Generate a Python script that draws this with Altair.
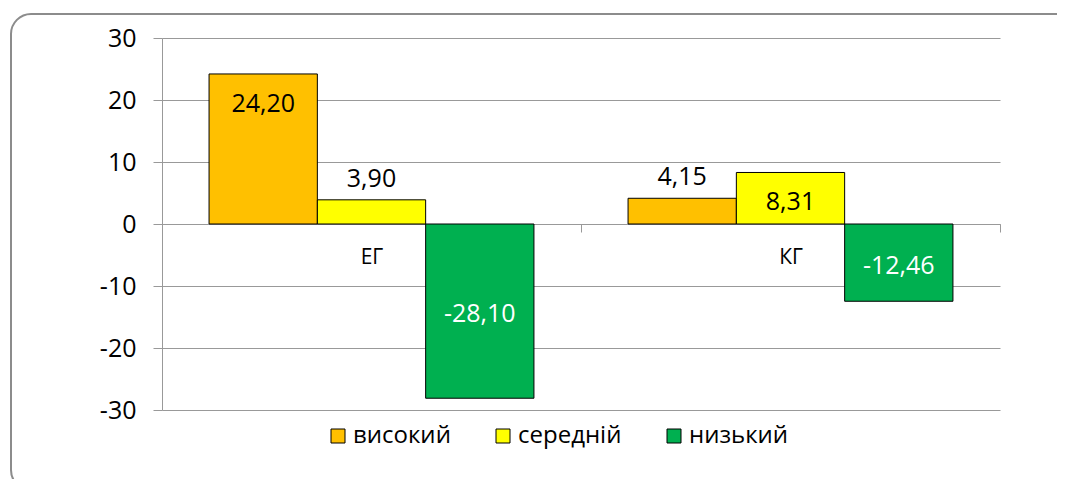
import altair as alt
import pandas as pd

categories = ["ЕГ", "КГ"]
series = ["високий", "середній", "низький"]
values_eg = [24.20, 3.90, -28.10]
values_kg = [4.15, 8.31, -12.46]
colors = ["#FFC000", "#FFFF00", "#00B050"]
y_ticks = [-30, -20, -10, 0, 10, 20, 30]

rows = []
for cat, vals in zip(categories, [values_eg, values_kg]):
    for s, v in zip(series, vals):
        rows.append({"cat": cat, "series": s, "value": v,
                     "label": f"{v:.2f}".replace(".", ",")})
df = pd.DataFrame(rows)

W, H = 838, 372
FONT = "Open Sans"

x_enc = alt.X("cat:N", sort=categories,
              scale=alt.Scale(paddingInner=0, paddingOuter=0),
              axis=alt.Axis(title=None, orient="bottom", offset=-H / 2,
                            tickBand="extent", tickSize=8, tickColor="#999999",
                            domainColor="#999999", labelFontSize=21,
                            labelColor="black", labelPadding=14, labelFont=FONT,
                            labelAngle=0))
xo_enc = alt.XOffset("series:N", sort=series,
                     scale=alt.Scale(paddingInner=0, paddingOuter=0.4345))
y_scale = alt.Scale(domain=[-30, 30], nice=False)

base = alt.Chart(df)

bars = base.mark_bar(stroke="black", strokeWidth=1).encode(
    x=x_enc,
    xOffset=xo_enc,
    y=alt.Y("value:Q", scale=y_scale,
            axis=alt.Axis(title=None, values=y_ticks, labelExpr="'' + datum.value",
                          grid=True, gridColor="#999999", domainColor="#999999",
                          tickColor="#999999", tickSize=9, labelPadding=17,
                          labelFontSize=25, labelColor="black", labelFont=FONT)),
    color=alt.Color("series:N", sort=series,
                    scale=alt.Scale(domain=series, range=colors),
                    legend=alt.Legend(title=None, orient="none", direction="horizontal",
                                      legendX=164, legendY=386,
                                      symbolType="square", symbolSize=196,
                                      symbolStrokeColor="black", symbolStrokeWidth=1,
                                      labelOffset=3, columnPadding=40,
                                      labelFontSize=24, labelFont=FONT,
                                      labelColor="black")),
)

inside = base.transform_filter("datum.value > 5").mark_text(
    baseline="middle", dy=30, fontSize=25, font=FONT, color="black"
).encode(x=alt.X("cat:N", sort=categories), xOffset=xo_enc, y=alt.Y("value:Q"), text="label:N")

outside = base.transform_filter("datum.value > 0 && datum.value <= 5").mark_text(
    baseline="middle", dy=-21, fontSize=25, font=FONT, color="black"
).encode(x=alt.X("cat:N", sort=categories), xOffset=xo_enc, y=alt.Y("value:Q"), text="label:N")

center = base.transform_filter("datum.value < 0").transform_calculate(
    mid="datum.value / 2"
).mark_text(
    baseline="middle", dy=3, fontSize=25, font=FONT, color="white"
).encode(x=alt.X("cat:N", sort=categories), xOffset=xo_enc, y=alt.Y("mid:Q"), text="label:N")

frame = alt.Chart(pd.DataFrame({"a": [0]})).mark_rect(
    cornerRadius=20, fillOpacity=0, fill="white", stroke="#8c8c8c", strokeWidth=2
).encode(x=alt.value(-151), x2=alt.value(W + 80), y=alt.value(-24), y2=alt.value(H + 80))

chart = alt.layer(frame, bars, inside, outside, center).properties(
    width=W, height=H,
    autosize=alt.AutoSizeParams(type="none"),
    padding={"left": 154, "top": 30, "right": 57, "bottom": 69},
).configure_view(stroke=None).configure_axisX(grid=False)

chart.save("out.html", embed_options={"renderer": "svg", "actions": False})
